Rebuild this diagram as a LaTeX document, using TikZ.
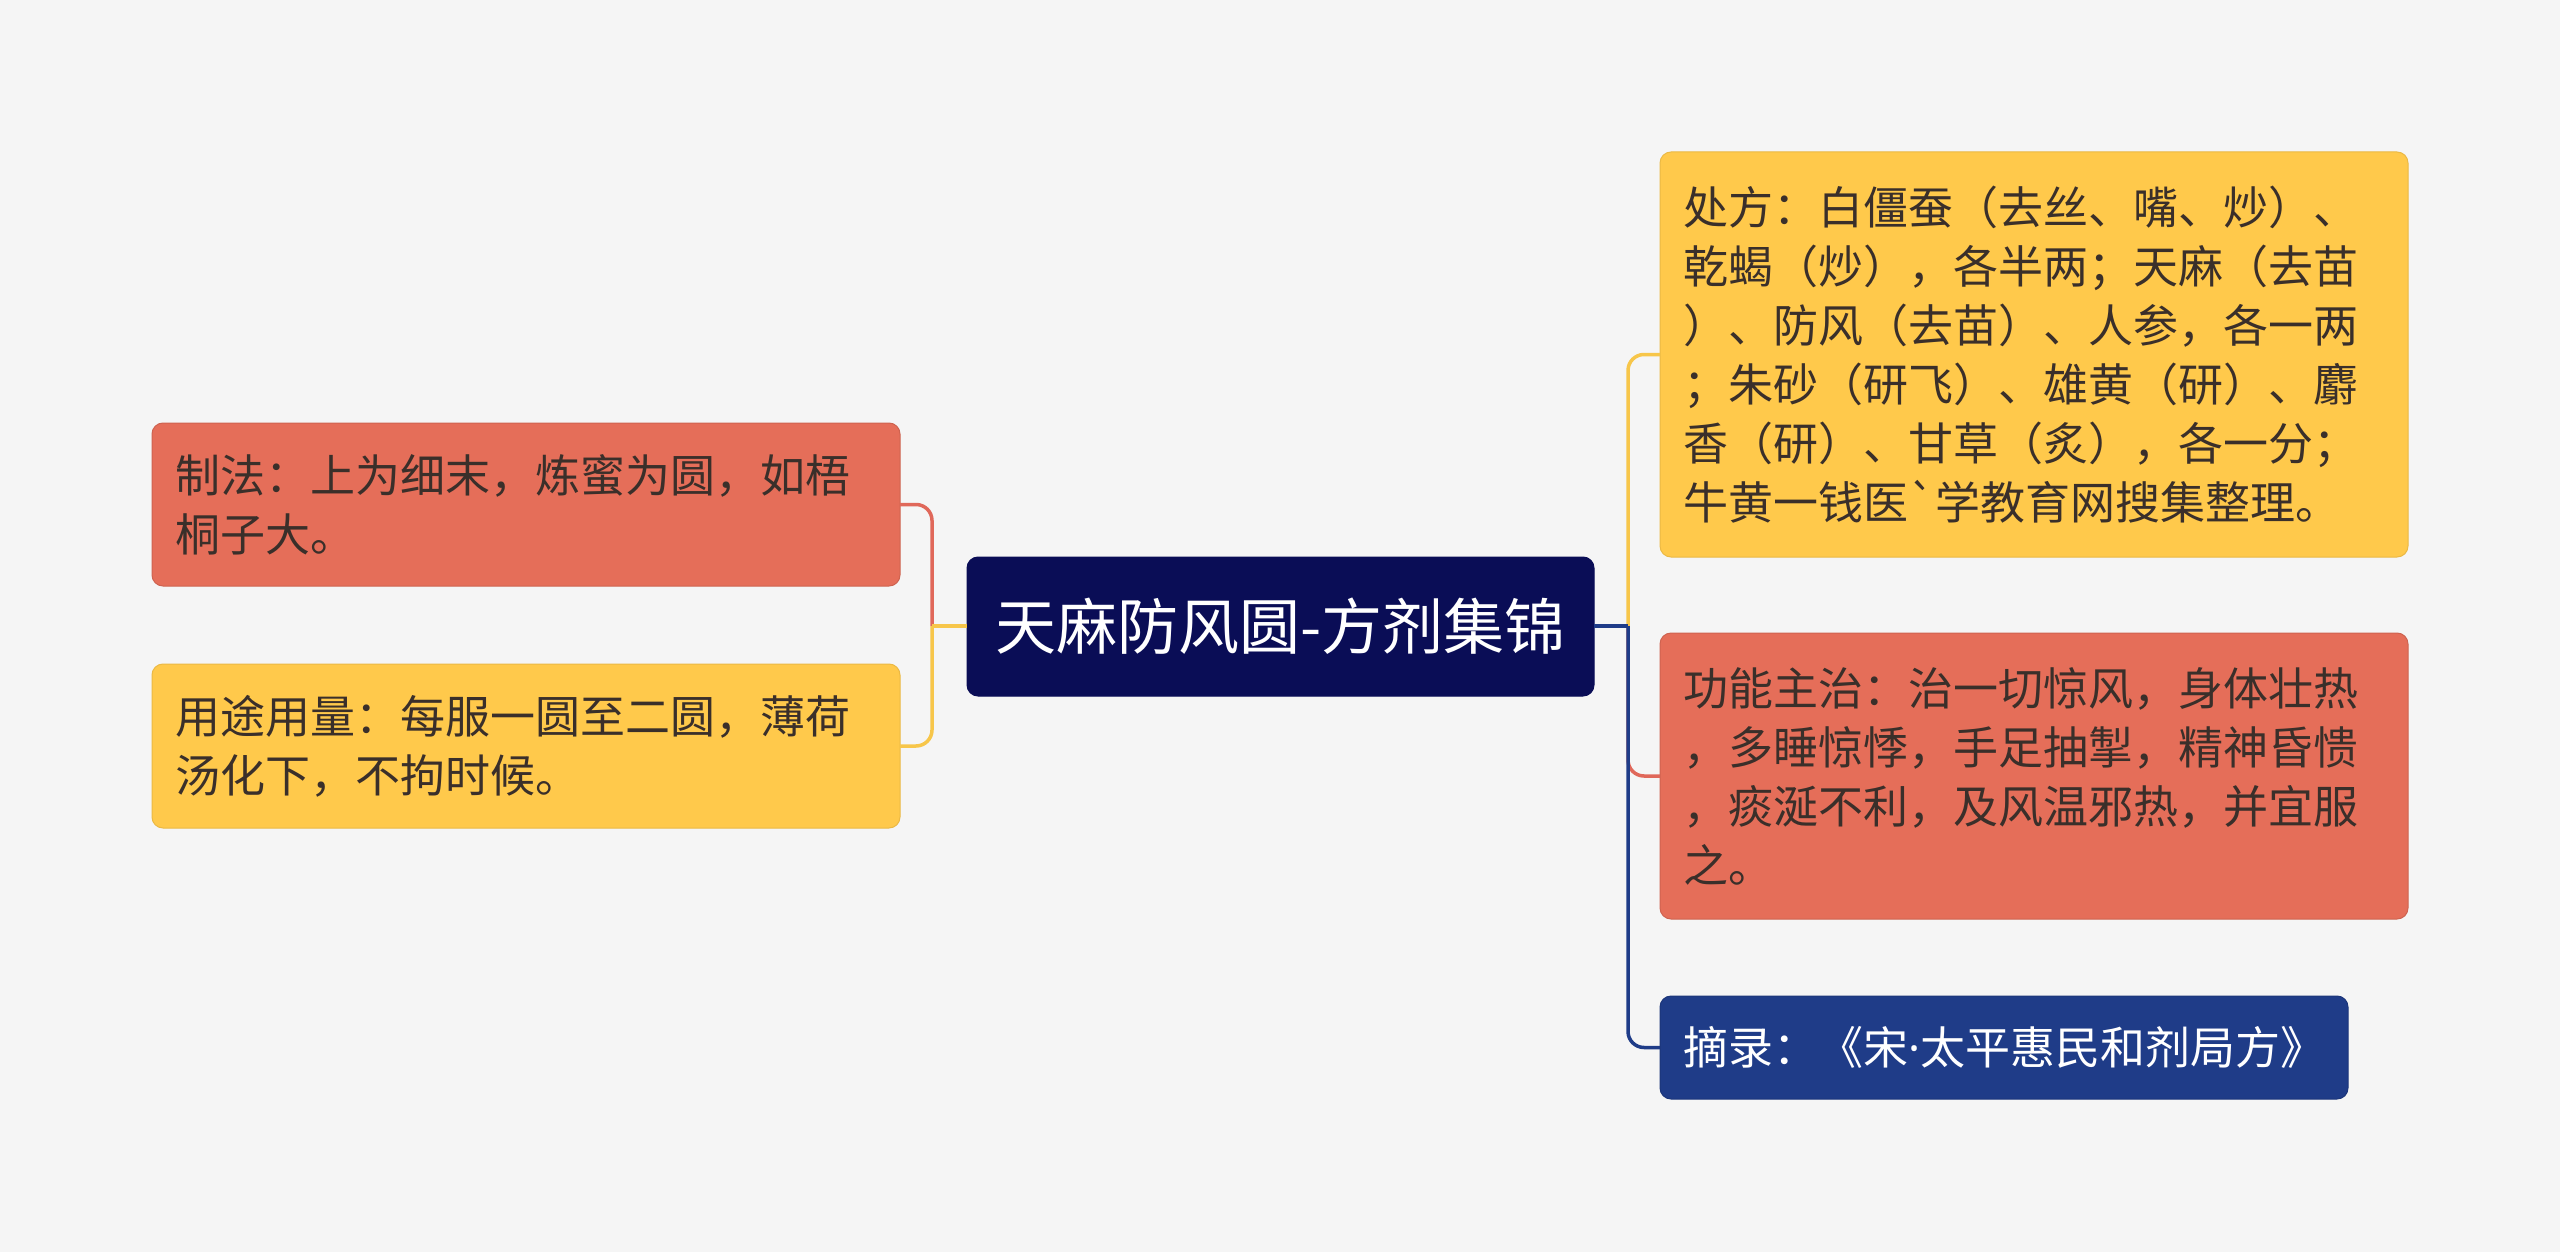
\documentclass[tikz,border=0pt]{standalone}
\usepackage{fontspec}
\newfontfamily\cjk{Noto Sans CJK SC}
\newfontfamily\latinf{Noto Sans}
\definecolor{bg}{HTML}{F5F5F5}
\definecolor{redbox}{HTML}{E56E59}
\definecolor{redline}{HTML}{E0685A}
\definecolor{yelbox}{HTML}{FFC94B}
\definecolor{yelline}{HTML}{F7C64A}
\definecolor{navy}{HTML}{0A0D56}
\definecolor{bluebox}{HTML}{1F3C88}
\definecolor{txt}{HTML}{3A2F2A}
\begin{document}
\begin{tikzpicture}[x=1pt,y=-1pt,
  box/.style={anchor=north west, rounded corners=11pt, inner sep=0pt, outer sep=0pt,
    align=left, font=\cjk\fontsize{45pt}{59pt}\selectfont, text=txt, line width=1pt},
  redstyle/.style={box, fill=redbox, draw=redbox!90!black},
  yelstyle/.style={box, fill=yelbox, draw=yelbox!92!black},
  conn/.style={line width=3.5pt, rounded corners=16pt}]
\fill[bg] (0,0) rectangle (2560,1252);
\useasboundingbox (0,0) rectangle (2560,1252);

% root
\node[box, fill=navy, draw=navy, text=white, align=center, minimum width=627pt, minimum height=139pt,
  font=\cjk\fontsize{61pt}{72pt}\selectfont] (root) at (967,557) {天麻防风圆-方剂集锦};

% left nodes
\node[redstyle, text width=702pt, minimum width=748pt, minimum height=163pt] (l1) at (152,423)
  {制法：上为细末，炼蜜为圆，如梧\\桐子大。};
\node[yelstyle, text width=702pt, minimum width=748pt, minimum height=164pt] (l2) at (152,664)
  {用途用量：每服一圆至二圆，薄荷\\汤化下，不拘时候。};

% right nodes
\node[yelstyle, text width=702pt, minimum width=748pt, minimum height=405pt] (r1) at (1660,152)
  {处方：白僵蚕（去丝、嘴、炒）、\\乾蝎（炒），各半两；天麻（去苗\\）、防风（去苗）、人参，各一两\\；朱砂（研飞）、雄黄（研）、麝\\香（研）、甘草（炙），各一分；\\牛黄一钱医`学教育网搜集整理。};
\node[redstyle, text width=702pt, minimum width=748pt, minimum height=286pt] (r2) at (1660,633)
  {功能主治：治一切惊风，身体壮热\\，多睡惊悸，手足抽掣，精神昏愦\\，痰涎不利，及风温邪热，并宜服\\之。};
\node[box, fill=bluebox, draw=bluebox!90!black, text=white, text width=642pt, minimum width=688pt, minimum height=103pt] (r3) at (1660,996)
  {摘录：《宋{\latinf ·}太平惠民和剂局方》};

% junctions
\coordinate (jl) at (932,626);
\coordinate (jr) at (1628,626);

% left connectors
\draw[conn, draw=redline] (jl) |- (l1.east);
\draw[conn, draw=yelline] (jl) |- (l2.east);
\draw[conn, draw=yelline] (root.west |- jl) -- (jl);

% right connectors
\draw[conn, draw=redline] (jr) |- (r2.west);
\draw[conn, draw=yelline] (jr) |- (r1.west);
\draw[conn, draw=bluebox] (jr) |- (r3.west);
\draw[conn, draw=bluebox] (root.east |- jr) -- (jr);
\end{tikzpicture}
\end{document}
